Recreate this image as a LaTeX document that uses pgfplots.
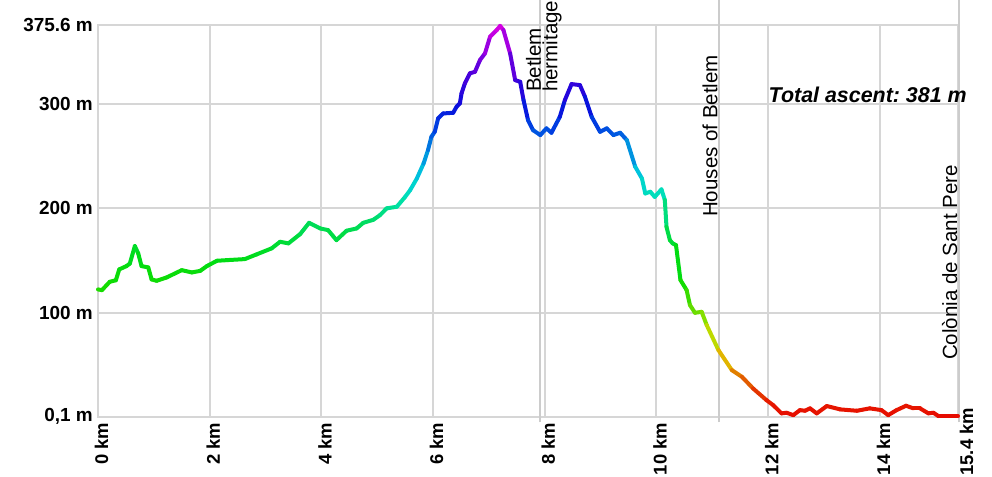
\documentclass[border=0pt]{standalone}
\usepackage{fontspec}
\setmainfont{Liberation Sans}
\usepackage{pgfplots}
\usepackage{pgfplotstable}
\pgfplotsset{compat=1.18}
\frenchspacing
\pgfplotstableread{
x y
0.00 122.2
0.07 121.5
0.21 129.5
0.32 131.0
0.38 141.4
0.51 144.6
0.57 147.0
0.66 163.8
0.72 156.8
0.78 144.6
0.90 143.3
0.96 131.8
1.05 130.5
1.23 133.7
1.50 140.7
1.68 138.5
1.83 140.0
1.95 144.6
2.13 149.7
2.31 150.3
2.63 151.3
2.84 155.8
3.11 161.6
3.26 167.9
3.41 166.4
3.62 175.3
3.78 186.1
3.98 180.7
4.12 179.1
4.27 169.5
4.45 178.5
4.63 180.7
4.75 186.1
4.93 189.0
5.05 193.5
5.17 200.0
5.35 201.5
5.50 211.0
5.59 217.5
5.71 228.7
5.83 243.0
5.91 256.0
5.97 268.6
6.03 273.4
6.09 286.3
6.18 291.0
6.36 291.7
6.42 297.4
6.48 300.7
6.51 310.3
6.57 320.0
6.66 329.5
6.75 331.0
6.84 342.2
6.93 348.7
7.02 364.6
7.14 371.0
7.20 375.0
7.26 371.0
7.38 348.6
7.47 323.0
7.56 321.4
7.62 303.8
7.70 284.7
7.79 275.0
7.92 270.3
8.03 276.7
8.12 272.5
8.27 287.8
8.36 303.8
8.48 319.2
8.63 318.2
8.72 307.0
8.84 287.8
8.99 273.4
9.11 276.7
9.23 270.3
9.35 272.5
9.47 265.5
9.62 239.9
9.74 228.7
9.80 214.3
9.89 215.9
9.97 211.0
10.09 218.2
10.15 208.0
10.18 182.3
10.24 169.5
10.29 166.4
10.35 164.7
10.43 131.2
10.54 121.6
10.60 107.2
10.69 99.8
10.81 100.7
10.90 88.0
11.11 64.0
11.35 44.8
11.53 38.4
11.73 27.2
11.97 16.0
12.09 11.2
12.24 3.3
12.33 3.9
12.45 1.6
12.57 6.4
12.66 5.8
12.75 8.1
12.87 3.3
13.05 10.3
13.29 7.1
13.59 5.8
13.82 8.1
14.03 6.4
14.15 1.6
14.30 6.4
14.47 10.6
14.60 8.1
14.72 8.1
14.87 3.3
14.96 3.9
15.05 0.7
15.40 0.7
}\profile
\begin{document}
\begin{tikzpicture}
\begin{axis}[
  scale only axis,
  width=860bp, height=391.4bp,
  xmin=0, xmax=15.4, ymin=0.1, ymax=375.6,
  clip=false,
  axis line style={draw=black!16, line width=2bp},
  grid=major,
  major grid style={draw=black!16, line width=2bp},
  major tick length=0pt,
  xtick={0,2,4,6,8,10,12,14,15.4},
  xticklabels={0 km,2 km,4 km,6 km,8 km,10 km,12 km,14 km,{}},
  ytick={0.1,100,200,300,375.6},
  yticklabels={{0,1 m},{100 m},{200 m},{300 m},{375.6 m}},
  xticklabel style={font=\fontsize{18.5}{20}\selectfont\bfseries, xshift=3.5bp, yshift=-6bp, rotate=90, anchor=east, inner sep=0pt},
  yticklabel style={font=\fontsize{19}{20}\selectfont\bfseries, anchor=east, inner sep=0pt, xshift=-5bp},
  colormap={elev}{
    rgb255(0pt)=(230,10,0)
    rgb255(15pt)=(230,30,0)
    rgb255(35pt)=(225,100,0)
    rgb255(60pt)=(225,205,0)
    rgb255(85pt)=(170,225,0)
    rgb255(105pt)=(90,220,0)
    rgb255(125pt)=(20,220,0)
    rgb255(150pt)=(0,220,20)
    rgb255(185pt)=(0,220,90)
    rgb255(210pt)=(0,225,180)
    rgb255(230pt)=(0,205,220)
    rgb255(255pt)=(0,140,225)
    rgb255(280pt)=(0,60,225)
    rgb255(300pt)=(10,10,220)
    rgb255(330pt)=(80,0,220)
    rgb255(355pt)=(150,0,225)
    rgb255(375pt)=(220,0,225)
  },
  point meta min=0, point meta max=375.6,
]
\draw[black!20, line width=2bp] (axis cs:7.915,-5.3) -- (axis cs:7.915,400);
\draw[black!20, line width=2bp] (axis cs:11.12,-5.3) -- (axis cs:11.12,400);
\draw[black!20, line width=2bp] (axis cs:15.415,-5.3) -- (axis cs:15.415,400);
\addplot[mesh, line width=4bp, line cap=round, line join=round, point meta=\thisrow{y}] table[x=x,y=y] {\profile};
\node[rotate=90, anchor=base west, inner sep=0pt, font=\fontsize{20.6}{22}\selectfont] at (axis cs:7.93,311.5) {Betlem};
\node[rotate=90, anchor=base west, inner sep=0pt, font=\fontsize{20.6}{22}\selectfont] at (axis cs:8.225,311.5) {hermitage};
\node[rotate=90, anchor=base west, inner sep=0pt, font=\fontsize{20.6}{22}\selectfont] at (axis cs:11.09,191.6) {Houses of Betlem};
\node[rotate=90, anchor=base west, inner sep=0pt, font=\fontsize{20.6}{22}\selectfont] at (axis cs:15.385,54.4) {Colònia de Sant Pere};
\node[rotate=90, anchor=base west, inner sep=0pt, font=\fontsize{18.5}{20}\selectfont\bfseries] at (axis cs:15.669,-56.5) {15.4 km};
\node[anchor=base east, inner sep=0pt, font=\fontsize{21.5}{23}\selectfont\bfseries\itshape] at (axis cs:15.56,302) {Total ascent: 381 m};
\end{axis}
\pgfresetboundingbox
\path[use as bounding box] (-98bp,-60.3bp) rectangle (894bp,416.7bp);
\end{tikzpicture}
\end{document}
